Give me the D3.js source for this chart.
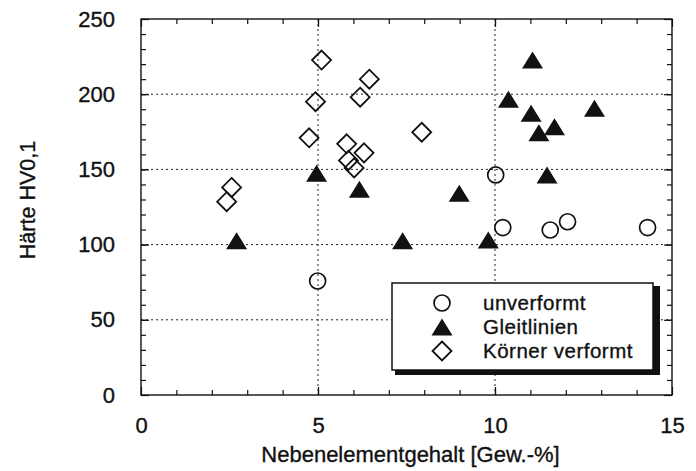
<!DOCTYPE html>
<html>
<head>
<meta charset="utf-8">
<script src="https://cdn.jsdelivr.net/npm/d3@7"></script>
<style>
    body { margin: 0; background: #fff; }
    text { font-family: "Liberation Sans", Arial, sans-serif; fill: #111; stroke: #111; stroke-width: 0.35px; }
</style>
</head>
<body>
<div id="chart"></div>
<script>
// Data
const unverformtX = [4.99, 10.02, 10.22, 11.56, 12.05, 14.31]
const unverformtY = [75.8, 146.3, 111.3, 109.7, 115.2, 111.3]

const gleitX = [2.70, 4.96, 6.17, 7.39, 8.99, 9.81, 10.38, 11.02, 11.06, 11.24, 11.47, 11.68, 12.81]
const gleitY = [102.6, 147.4, 136.8, 102.6, 134.1, 103, 196.6, 187.3, 222.7, 174.4, 146.3, 178.4, 190.6]

const koernerX = [2.42, 2.56, 4.75, 4.93, 5.10, 5.81, 5.86, 6.02, 6.19, 6.30, 6.45, 7.93]
const koernerY = [128.5, 138, 171, 195, 222.7, 167, 156, 151, 198, 161, 210, 174.7]

const legendLabels = ["unverformt", "Gleitlinien", "Körner verformt"]
const xTicks = [0, 5, 10, 15]
const yTicks = [0, 50, 100, 150, 200, 250]
const xTitle = "Nebenelementgehalt [Gew.-%]"
const yTitle = "Härte HV0,1"

function drawChart() {
    const dimensions = {
        width: 696,
        height: 471,
        margins: { top: 19, right: 24, bottom: 76, left: 141 }
    }
    dimensions.boundedWidth = dimensions.width - dimensions.margins.left - dimensions.margins.right
    dimensions.boundedHeight = dimensions.height - dimensions.margins.top - dimensions.margins.bottom

    const wrapper = d3.select("#chart").append("svg")
        .attr("width", dimensions.width)
        .attr("height", dimensions.height)

    const bounds = wrapper.append("g")
        .attr("transform", `translate(${dimensions.margins.left},${dimensions.margins.top})`)

    // Scales
    const xScale = d3.scaleLinear().domain([0, 15]).range([0, dimensions.boundedWidth])
    const yScale = d3.scaleLinear().domain([0, 250]).range([dimensions.boundedHeight, 0])

    const W = dimensions.boundedWidth
    const H = dimensions.boundedHeight

    // Dotted grid lines
    const grid = bounds.append("g")
        .attr("stroke", "#222")
        .attr("stroke-width", 1)
        .attr("stroke-dasharray", "2,3")
    grid.selectAll(".gy").data(yTicks.slice(1, -1)).join("line")
        .attr("x1", 0).attr("x2", W)
        .attr("y1", d => yScale(d)).attr("y2", d => yScale(d))
    grid.selectAll(".gx").data(xTicks.slice(1, -1)).join("line")
        .attr("x1", d => xScale(d)).attr("x2", d => xScale(d))
        .attr("y1", 0).attr("y2", H)

    // Inward ticks on all four sides
    const xMinor = d3.range(1, 15)
    const yMinor = d3.range(10, 250, 10)
    const tickAxes = [
        [d3.axisBottom(xScale).tickValues(xMinor).tickSize(-5), `translate(0,${H})`],
        [d3.axisTop(xScale).tickValues(xMinor).tickSize(-5), null],
        [d3.axisLeft(yScale).tickValues(yMinor).tickSize(-5), null],
        [d3.axisRight(yScale).tickValues(yMinor).tickSize(-5), `translate(${W},0)`],
        [d3.axisLeft(yScale).tickValues(yTicks).tickSize(-8), null],
        [d3.axisRight(yScale).tickValues(yTicks).tickSize(-8), `translate(${W},0)`],
        [d3.axisBottom(xScale).tickValues(xTicks).tickSize(-8), `translate(0,${H})`],
        [d3.axisTop(xScale).tickValues(xTicks).tickSize(-8), null]
    ]
    tickAxes.forEach(([gen, tr]) => {
        const g = bounds.append("g").call(gen.tickFormat(""))
        if (tr) g.attr("transform", tr)
        g.select(".domain").remove()
        g.selectAll("line").attr("stroke", "#111").attr("stroke-width", 1.2)
    })

    // Tick labels
    const xLabels = bounds.append("g")
        .attr("transform", `translate(0,${H})`)
        .call(d3.axisBottom(xScale).tickValues(xTicks).tickSize(0).tickPadding(22).tickFormat(d3.format("d")))
    xLabels.select(".domain").remove()
    xLabels.selectAll("text").attr("font-size", 22).attr("font-family", null).attr("fill", "#111")

    const yLabels = bounds.append("g")
        .call(d3.axisLeft(yScale).tickValues(yTicks).tickSize(0).tickPadding(26).tickFormat(d3.format("d")))
    yLabels.select(".domain").remove()
    yLabels.selectAll("text").attr("font-size", 22).attr("font-family", null).attr("fill", "#111")

    // Frame
    bounds.append("rect")
        .attr("width", W).attr("height", H)
        .attr("fill", "none").attr("stroke", "#111").attr("stroke-width", 1.4)

    // Marker shapes
    const tri = "M0,-8.5L10.5,8.5L-10.5,8.5Z"
    const dia = "M0,-9.5L9.5,0L0,9.5L-9.5,0Z"

    const unverformt = d3.zip(unverformtX, unverformtY)
    const gleit = d3.zip(gleitX, gleitY)
    const koerner = d3.zip(koernerX, koernerY)

    bounds.selectAll(".unv").data(unverformt).join("circle")
        .attr("cx", d => xScale(d[0])).attr("cy", d => yScale(d[1]))
        .attr("r", 8)
        .attr("fill", "none").attr("stroke", "#111").attr("stroke-width", 1.7)

    bounds.selectAll(".koe").data(koerner).join("path")
        .attr("d", dia)
        .attr("transform", d => `translate(${xScale(d[0])},${yScale(d[1])})`)
        .attr("fill", "none").attr("stroke", "#111").attr("stroke-width", 1.8)

    bounds.selectAll(".gle").data(gleit).join("path")
        .attr("d", tri)
        .attr("transform", d => `translate(${xScale(d[0])},${yScale(d[1])})`)
        .attr("fill", "#111")

    // Legend with drop shadow
    const legend = wrapper.append("g").attr("transform", "translate(392,283)")
    legend.append("rect")
        .attr("x", 3).attr("y", 3).attr("width", 265).attr("height", 89)
        .attr("fill", "#111")
    legend.append("rect")
        .attr("width", 261).attr("height", 87)
        .attr("fill", "#fff").attr("stroke", "#111").attr("stroke-width", 1.5)

    const shapes = [
        g => g.append("circle").attr("r", 8).attr("fill", "none").attr("stroke", "#111").attr("stroke-width", 1.7),
        g => g.append("path").attr("d", tri).attr("fill", "#111"),
        g => g.append("path").attr("d", dia).attr("fill", "none").attr("stroke", "#111").attr("stroke-width", 1.8)
    ]
    legendLabels.forEach((label, i) => {
        const row = legend.append("g").attr("transform", `translate(50,${20 + i * 24})`)
        shapes[i](row)
        row.append("text")
            .attr("x", 41).attr("y", 7)
            .attr("font-size", 20.5)
            .attr("letter-spacing", 0.5)
            .text(label)
    })

    // Axis titles
    wrapper.append("text")
        .attr("x", dimensions.margins.left + W / 2 + 4)
        .attr("y", 462)
        .attr("text-anchor", "middle")
        .attr("font-size", 22)
        .text(xTitle)

    wrapper.append("text")
        .attr("transform", "translate(35,200) rotate(-90)")
        .attr("text-anchor", "middle")
        .attr("font-size", 21.5)
        .text(yTitle)
}

drawChart()
</script>
</body>
</html>
